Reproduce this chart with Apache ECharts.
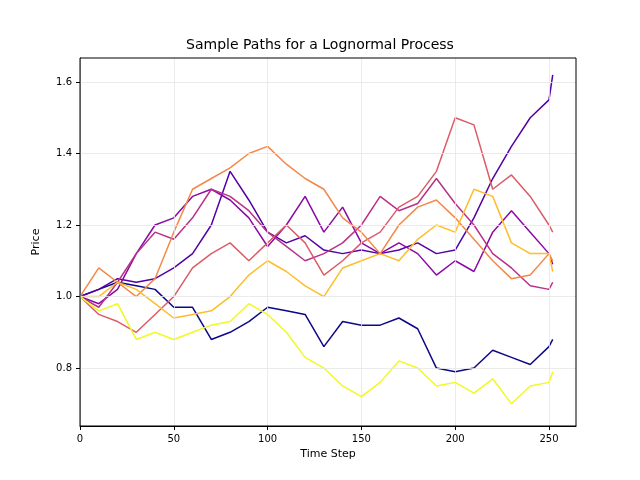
<!DOCTYPE html>
<html>
<head>
<meta charset="utf-8">
<script src="https://cdn.jsdelivr.net/npm/echarts@6/dist/echarts.min.js"></script>
<style>html,body{margin:0;background:#fff}#c{width:640px;height:480px}</style>
</head>
<body>
<div id="c"></div>
<script>
// sampled every 10 steps, last point at step 252
const steps = [0,10,20,30,40,50,60,70,80,90,100,110,120,130,140,150,160,170,180,190,200,210,220,230,240,250,252];
const pathA = [1.00,1.02,1.04,1.03,1.02,0.97,0.97,0.88,0.90,0.93,0.97,0.96,0.95,0.86,0.93,0.92,0.92,0.94,0.91,0.80,0.79,0.80,0.85,0.83,0.81,0.86,0.88];
const pathB = [1.00,1.02,1.05,1.04,1.05,1.08,1.12,1.20,1.35,1.27,1.18,1.15,1.17,1.13,1.12,1.13,1.12,1.13,1.15,1.12,1.13,1.22,1.33,1.42,1.50,1.55,1.62];
const pathC = [1.00,0.98,1.02,1.12,1.20,1.22,1.28,1.30,1.27,1.22,1.14,1.20,1.28,1.18,1.25,1.15,1.12,1.15,1.12,1.06,1.10,1.07,1.18,1.24,1.18,1.12,1.09];
const pathD = [1.00,0.97,1.04,1.12,1.18,1.16,1.22,1.30,1.28,1.24,1.18,1.14,1.10,1.12,1.15,1.20,1.28,1.24,1.26,1.33,1.26,1.20,1.12,1.08,1.03,1.02,1.04];
const pathE = [1.00,0.95,0.93,0.90,0.95,1.00,1.08,1.12,1.15,1.10,1.15,1.20,1.15,1.06,1.10,1.15,1.18,1.25,1.28,1.35,1.50,1.48,1.30,1.34,1.28,1.20,1.18];
const pathF = [1.00,1.08,1.04,1.00,1.05,1.18,1.30,1.33,1.36,1.40,1.42,1.37,1.33,1.30,1.22,1.18,1.12,1.20,1.25,1.27,1.22,1.16,1.10,1.05,1.06,1.12,1.10];
const pathG = [1.00,1.00,1.04,1.02,0.98,0.94,0.95,0.96,1.00,1.06,1.10,1.07,1.03,1.00,1.08,1.10,1.12,1.10,1.16,1.20,1.18,1.30,1.28,1.15,1.12,1.12,1.07];
const pathH = [1.00,0.96,0.98,0.88,0.90,0.88,0.90,0.92,0.93,0.98,0.95,0.90,0.83,0.80,0.75,0.72,0.76,0.82,0.80,0.75,0.76,0.73,0.77,0.70,0.75,0.76,0.79];
const paths = [pathA, pathB, pathC, pathD, pathE, pathF, pathG, pathH];
const colors = ["#0d0887","#5302a3","#8b0aa5","#b83289","#db5c68","#f48849","#febd2a","#f0f921"];
const xTicks = [0,50,100,150,200,250];
const yTicks = [0.8,1.0,1.2,1.4,1.6];

const chart = echarts.init(document.getElementById("c"));
const series = paths.map((p, i) => ({
  type: "line",
  data: p.map((v, j) => [steps[j], v]),
  symbol: "none",
  lineStyle: { width: 1.5, color: colors[i] },
  itemStyle: { color: colors[i] },
  z: 3
}));
// matplotlib style grid lines
series.push({
  type: "line", data: [], silent: true, z: 1,
  markLine: {
    silent: true, symbol: "none", label: { show: false },
    lineStyle: { color: "#e6e6e6", type: "solid", width: 0.8 },
    data: xTicks.map(x => ({ xAxis: x })).concat(yTicks.map(y => ({ yAxis: y })))
  }
});
chart.setOption({
  animation: false,
  title: { text: "Sample Paths for a Lognormal Process", left: "center", top: 33,
    textStyle: { fontFamily: "DejaVu Sans", fontSize: 14, fontWeight: "normal", color: "#000" } },
  grid: { left: 80, right: 64, top: 58, bottom: 54 },
  xAxis: {
    type: "value", min: 0, max: 264.4, name: "Time Step", nameLocation: "middle", nameGap: 22,
    nameTextStyle: { fontFamily: "DejaVu Sans", fontSize: 11, color: "#000" },
    axisLine: { onZero: false, lineStyle: { color: "#000" } },
    axisTick: { customValues: xTicks, length: 4, lineStyle: { color: "#000" } },
    axisLabel: { customValues: xTicks, fontFamily: "DejaVu Sans", fontSize: 10, color: "#000" },
    splitLine: { show: false }
  },
  yAxis: {
    type: "value", min: 0.638, max: 1.667, name: "Price", nameLocation: "middle", nameGap: 38,
    nameTextStyle: { fontFamily: "DejaVu Sans", fontSize: 11, color: "#000" },
    axisLine: { show: true, onZero: false, lineStyle: { color: "#000" } },
    axisTick: { show: true, customValues: yTicks, length: 4, lineStyle: { color: "#000" } },
    axisLabel: { customValues: yTicks, formatter: v => v.toFixed(1), fontFamily: "DejaVu Sans", fontSize: 10, color: "#000" },
    splitLine: { show: false }
  },
  graphic: [
    { type: "rect", shape: { x: 80, y: 58, width: 496, height: 368 }, style: { fill: "none", stroke: "#000", lineWidth: 1 }, silent: true, z: 10 }
  ],
  series: series
});
</script>
</body>
</html>
